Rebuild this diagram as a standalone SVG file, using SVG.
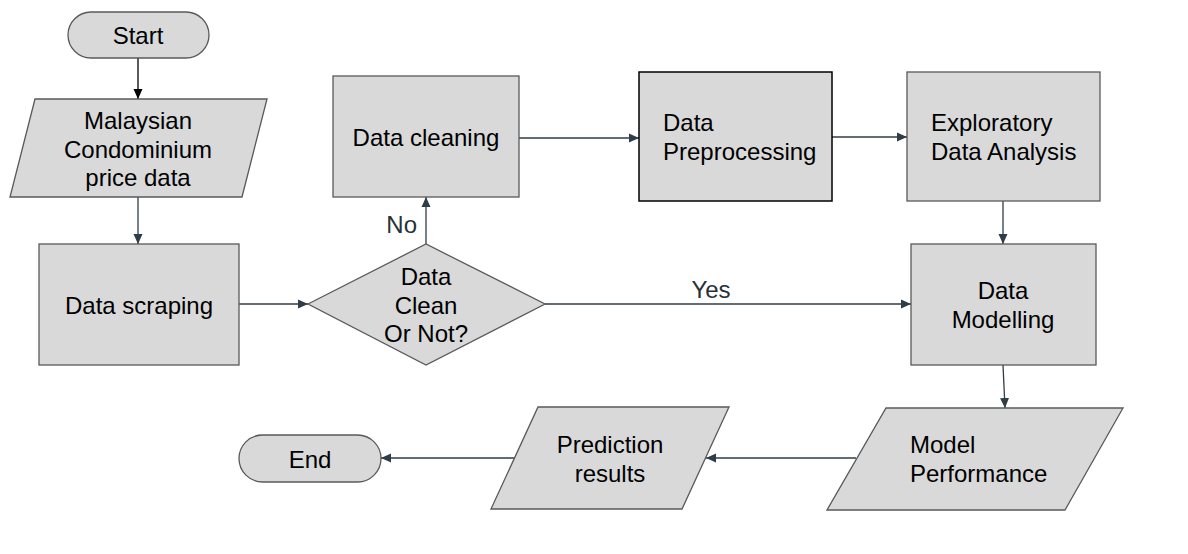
<svg xmlns="http://www.w3.org/2000/svg" width="1188" height="554" viewBox="0 0 1188 554">
<style>
.n{fill:#d9d9d9;stroke:#595959;stroke-width:1.3}
.b{fill:#d9d9d9;stroke:#000;stroke-width:1.5}
.t{font-family:"Liberation Sans",Arial,sans-serif;font-size:24px;fill:#000}
.c{text-anchor:middle}
.l{font-family:"Liberation Sans",Arial,sans-serif;font-size:24px;fill:#263238}
.e{fill:none;stroke:#2e3d48;stroke-width:1.3}
</style>
<defs>
<marker id="a" viewBox="0 0 10 10" refX="10" refY="5" markerWidth="10" markerHeight="10" markerUnits="userSpaceOnUse" orient="auto">
<path d="M0,0.5 L10,5 L0,9.5 Z" fill="#2e3d48"/>
</marker>
<marker id="ak" viewBox="0 0 10 10" refX="10" refY="5" markerWidth="10" markerHeight="10" markerUnits="userSpaceOnUse" orient="auto">
<path d="M0,0.5 L10,5 L0,9.5 Z" fill="#000"/>
</marker>
</defs>
<rect width="1188" height="554" fill="#fff"/>
<g id="connectors">
<path d="M138,58 V99" fill="none" stroke="#000" stroke-width="1.3" marker-end="url(#ak)"/>
<path class="e" d="M138,197 V244" marker-end="url(#a)"/>
<path class="e" d="M239,304 H308" marker-end="url(#a)"/>
<path class="e" d="M426,244 V197" marker-end="url(#a)"/>
<path class="e" d="M519,138 H639" marker-end="url(#a)"/>
<path class="e" d="M832,137 H907" marker-end="url(#a)"/>
<path class="e" d="M545,304 H911" marker-end="url(#a)"/>
<path class="e" d="M1003,201 V244" marker-end="url(#a)"/>
<path class="e" d="M1003,365 L1005,408" marker-end="url(#a)"/>
<path class="e" d="M856,458 H706" marker-end="url(#a)"/>
<path class="e" d="M514,458 H381" marker-end="url(#a)"/>
<text class="l" x="417" y="233" text-anchor="end">No</text>
<text class="l c" x="711" y="298">Yes</text>
</g>
<g id="start">
<rect class="n" x="68" y="12" width="141" height="46" rx="23"/>
<text class="t c" x="138" y="44">Start</text>
</g>
<g id="malaysian">
<polygon class="n" points="35,99 267,99 242,197 10,197"/>
<text class="t c" x="138" y="129">Malaysian</text>
<text class="t c" x="138" y="158">Condominium</text>
<text class="t c" x="138" y="186">price data</text>
</g>
<g id="scraping">
<rect class="n" x="39" y="244" width="200" height="121"/>
<text class="t c" x="139" y="314">Data scraping</text>
</g>
<g id="decision">
<polygon class="n" points="308,304 426,244 545,304 426,365"/>
<text class="t c" x="426" y="285">Data</text>
<text class="t c" x="426" y="314">Clean</text>
<text class="t c" x="426" y="342">Or Not?</text>
</g>
<g id="cleaning">
<rect class="n" x="333" y="76" width="186" height="121"/>
<text class="t c" x="426" y="146">Data cleaning</text>
</g>
<g id="preprocessing">
<rect class="b" x="639" y="72" width="193" height="129"/>
<text class="t" x="663" y="131">Data</text>
<text class="t" x="663" y="160">Preprocessing</text>
</g>
<g id="eda">
<rect class="n" x="907" y="72" width="193" height="129"/>
<text class="t" x="931" y="131">Exploratory</text>
<text class="t" x="931" y="160">Data Analysis</text>
</g>
<g id="modelling">
<rect class="n" x="911" y="244" width="185" height="121"/>
<text class="t c" x="1003" y="299">Data</text>
<text class="t c" x="1003" y="328">Modelling</text>
</g>
<g id="performance">
<polygon class="n" points="886,408 1123,408 1065,510 827,510"/>
<text class="t" x="910" y="453">Model</text>
<text class="t" x="910" y="482">Performance</text>
</g>
<g id="prediction">
<polygon class="n" points="538,407 729,407 682,509 491,509"/>
<text class="t c" x="610" y="453">Prediction</text>
<text class="t c" x="610" y="482">results</text>
</g>
<g id="end">
<rect class="n" x="239" y="435" width="142" height="47" rx="23.5"/>
<text class="t c" x="310" y="468">End</text>
</g>
</svg>
